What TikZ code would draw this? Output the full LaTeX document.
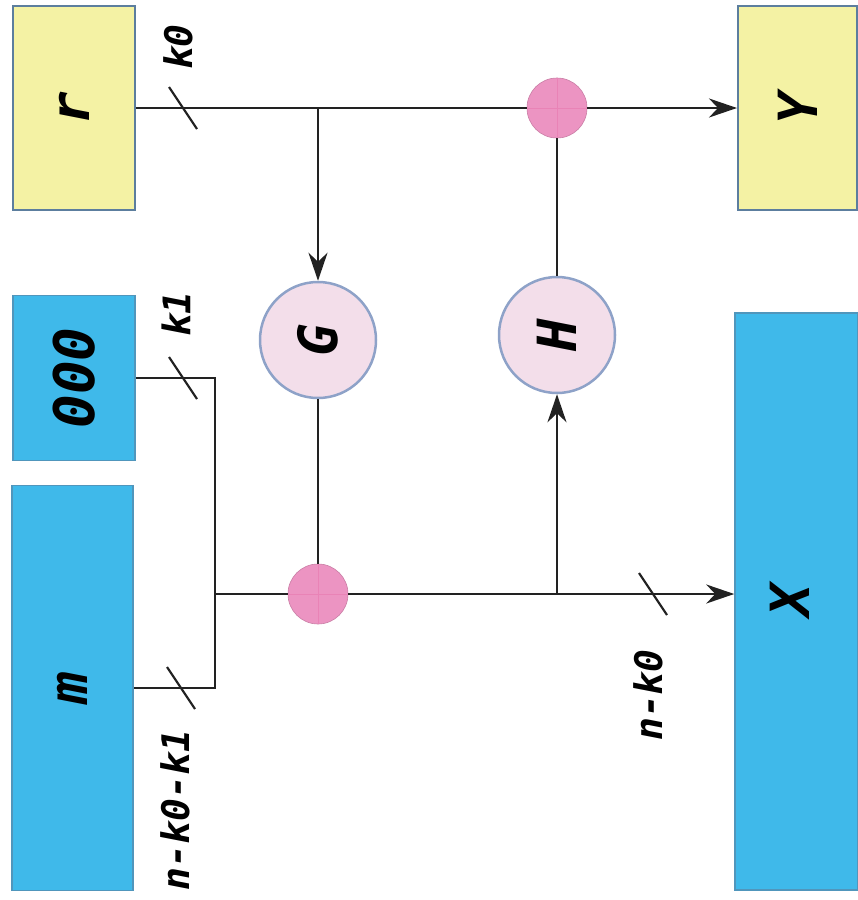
\documentclass[tikz,border=0pt]{standalone}
\usepackage{fontspec}
\setmonofont{DejaVu Sans Mono}
\usetikzlibrary{arrows.meta,calc}
\definecolor{boxyellow}{HTML}{F4F2A4}
\definecolor{boxblue}{HTML}{3FB9EA}
\definecolor{edgegray}{HTML}{5C7E9E}
\definecolor{xorpink}{HTML}{EC94C2}
\definecolor{xorcross}{HTML}{E983B6}
\definecolor{fnfill}{HTML}{F3DEEA}
\definecolor{fnedge}{HTML}{8EA2C8}
\definecolor{wire}{HTML}{222222}
\tikzset{
  lbl/.style={font=\ttfamily\bfseries\itshape\fontsize{38}{40}\selectfont, rotate=90, inner sep=0pt},
  letter/.style={font=\ttfamily\bfseries\itshape\fontsize{54}{56}\selectfont, rotate=90, inner sep=0pt},
  biglbl/.style={font=\ttfamily\bfseries\itshape\fontsize{56}{58}\selectfont, rotate=90, inner sep=0pt},
  regy/.style={draw=edgegray, line width=2pt, fill=boxyellow, minimum width=122pt, inner sep=0pt},
  regb/.style={draw=edgegray!60!boxblue, line width=1.5pt, fill=boxblue, inner sep=0pt},
  fn/.style={circle, draw=fnedge, line width=2.5pt, fill=fnfill, minimum size=116pt, inner sep=0pt},
  xorc/.style={circle, fill=xorpink, draw=xorpink!85!black, line width=0.6pt, minimum size=60pt, inner sep=0pt},
  wireline/.style={draw=wire, line width=2.6pt},
  arr/.style={wireline, -{Stealth[length=28pt,width=19pt,inset=9pt]}},
  tickmark/.style={draw=wire, line width=2.2pt},
}
\begin{document}
\begin{tikzpicture}[x=1pt,y=-1pt]
  \useasboundingbox (0,0) rectangle (858,900);

  % registers
  \node[regy, minimum height=204pt] (r) at (74,108) {};
  \node[letter] at (r.center) {r};
  \node[regb, minimum width=122pt, minimum height=165pt] (z) at (74,378) {};
  \node[biglbl] at (z.center) {000};
  \node[regb, minimum width=121pt, minimum height=405pt] (m) at (72.5,688) {};
  \node[letter] at (m.center) {m};
  \node[regy, minimum width=119pt, minimum height=204pt] (Y) at (797.5,108) {};
  \node[letter] at (Y.center) {Y};
  \node[regb, minimum width=123pt, minimum height=577pt] (X) at (796.5,601.5) {};
  \node[letter] at (790,600) {X};

  % function circles
  \node[fn] (G) at (318,340) {};
  \node[letter] at (G.center) {G};
  \node[fn] (H) at (557,335) {};
  \node[letter] at (H.center) {H};

  % xor circles
  \node[xorc] (xt) at (557,108) {};
  \node[xorc] (xb) at (318,594) {};
  \foreach \c in {xt,xb}{
    \draw[xorcross, line width=1pt] (\c.west) -- (\c.east);
    \draw[xorcross, line width=1pt] (\c.north) -- (\c.south);
  }

  % top wire: r -> xor -> Y
  \draw[wireline] (r.east) -- (xt.west);
  \draw[arr] (xt.east) -- (Y.west);
  \coordinate (jg) at (G.north |- r.east);
  \draw[arr] (jg) -- (G.north);
  \draw[wireline] (G.south) -- (xb.north);
  \draw[wireline] (H.north) -- (xt.south);

  % bracket joining 000 and m
  \coordinate (bx) at (215,594);
  \draw[wireline] (z.east) -- (z.east -| bx) -- (m.east -| bx) -- (m.east);
  \draw[wireline] (bx) -- (xb.west);

  % bottom wire: xor -> X, branch up to H
  \coordinate (xin) at (X.west |- xb.east);
  \draw[arr] (xb.east) -- (xin);
  \coordinate (jh) at (H.south |- xb.east);
  \draw[arr] (jh) -- (H.south);

  % width ticks and their labels
  \foreach \p in {(183,108),(183,378),(181,688),(653,594)}{
    \draw[tickmark] \p ++(-14,-21) -- ++(28,42);
  }
  \node[lbl] at (178,47) {k0};
  \node[lbl] at (176,314) {k1};
  \node[lbl] at (175,810) {n-k0-k1};
  \node[lbl] at (648,695) {n-k0};
\end{tikzpicture}
\end{document}
